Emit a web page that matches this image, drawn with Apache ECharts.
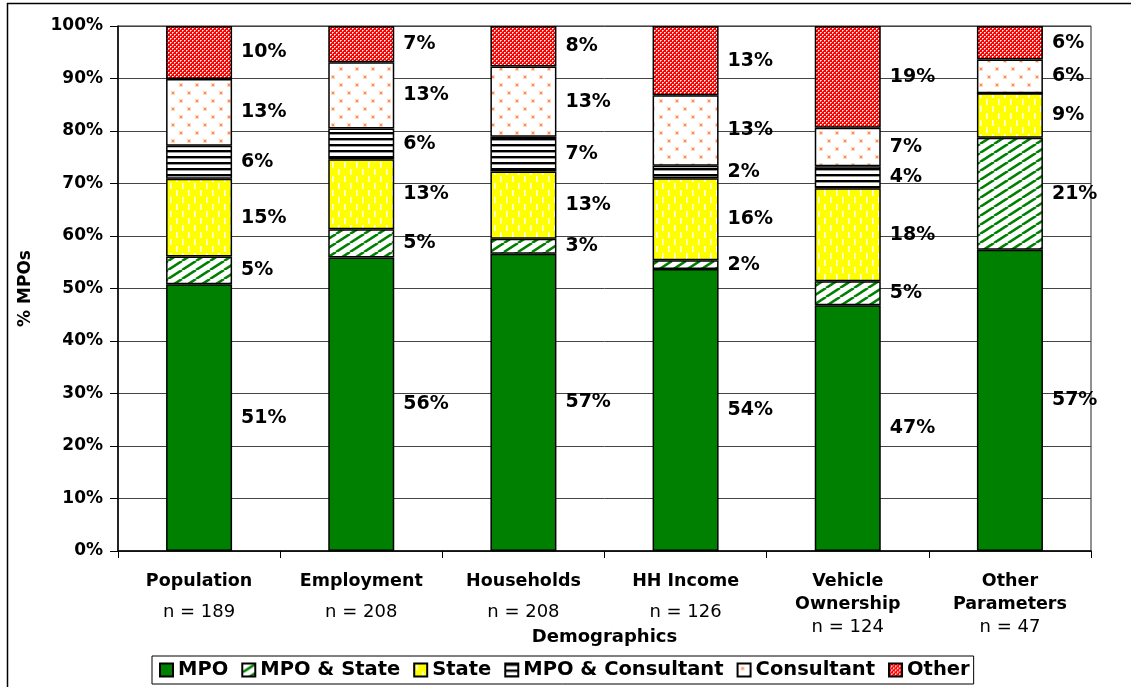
<!DOCTYPE html>
<html>
<head>
<meta charset="utf-8">
<script src="https://cdn.jsdelivr.net/npm/echarts@6/dist/echarts.min.js"></script>
<style>
  html, body { margin: 0; padding: 0; background: #fff; }
  #chart { width: 1131px; height: 687px; }
</style>
</head>
<body>
<div id="chart"></div>
<script>
// share of MPOs by source of demographic data, % of each column
const categories = ['Population', 'Employment', 'Households', 'HH Income', 'Vehicle\nOwnership', 'Other\nParameters']
const sampleSizes = [189, 208, 208, 126, 124, 47]

const mpo = [50.8, 55.9, 56.6, 53.7, 46.8, 57.4]
const mpoState = [5.3, 5.4, 2.9, 1.7, 4.6, 21.3]
const state = [14.8, 13.3, 12.8, 15.6, 17.7, 8.5]
const mpoConsultant = [6.3, 5.9, 6.6, 2.4, 4.2, 0]
const consultant = [12.7, 12.6, 13.4, 13.4, 7.3, 6.4]
const other = [10.1, 6.9, 7.7, 13.2, 19.4, 6.4]

const yTicks = [0, 10, 20, 30, 40, 50, 60, 70, 80, 90, 100]

const FONT = 'DejaVu Sans'

// fill patterns like the old excel ones
const makePattern = (w, h, draw) => {
  const c = document.createElement('canvas')
  c.width = w
  c.height = h
  draw(c.getContext('2d'))
  return { image: c, repeat: 'repeat' }
}

const stripePattern = makePattern(14, 9, (ctx) => {
  ctx.fillStyle = '#fff'
  ctx.fillRect(0, 0, 14, 9)
  ctx.strokeStyle = '#008000'
  ctx.lineWidth = 2.6
  for (const o of [-14, 0, 14]) {
    ctx.beginPath()
    ctx.moveTo(o, 9)
    ctx.lineTo(o + 14, 0)
    ctx.stroke()
  }
})

const dashPattern = makePattern(12, 14, (ctx) => {
  ctx.fillStyle = '#ffff00'
  ctx.fillRect(0, 0, 12, 14)
  ctx.fillStyle = '#fff'
  ctx.fillRect(2, 1, 1.5, 6)
  ctx.fillRect(8, 8, 1.5, 6)
})

const linePattern = makePattern(4, 6, (ctx) => {
  ctx.fillStyle = '#fff'
  ctx.fillRect(0, 0, 4, 6)
  ctx.fillStyle = '#000'
  ctx.fillRect(0, 0, 4, 2)
  ctx.fillStyle = '#999'
  ctx.fillRect(0, 2, 4, 1)
})

const dotPattern = makePattern(16, 16, (ctx) => {
  ctx.fillStyle = '#fff'
  ctx.fillRect(0, 0, 16, 16)
  ctx.fillStyle = '#ffd8c0'
  ctx.fillRect(3, 3, 4, 4)
  ctx.fillRect(11, 11, 4, 4)
  ctx.fillStyle = '#ff8c50'
  ctx.fillRect(4, 4, 2, 2)
  ctx.fillRect(12, 12, 2, 2)
})

const checkPattern = makePattern(4, 4, (ctx) => {
  ctx.fillStyle = '#ff0000'
  ctx.fillRect(0, 0, 4, 4)
  ctx.fillStyle = '#ffa0a0'
  ctx.fillRect(1, 0, 1, 1)
  ctx.fillRect(0, 1, 1, 1)
  ctx.fillRect(3, 2, 1, 1)
  ctx.fillRect(2, 3, 1, 1)
  ctx.fillStyle = '#fff'
  ctx.fillRect(0, 0, 1, 1)
  ctx.fillRect(2, 2, 1, 1)
})

const seriesDefs = [
  { name: 'MPO', data: mpo, color: '#008000' },
  { name: 'MPO & State', data: mpoState, color: stripePattern },
  { name: 'State', data: state, color: dashPattern },
  { name: 'MPO & Consultant', data: mpoConsultant, color: linePattern },
  { name: 'Consultant', data: consultant, color: dotPattern },
  { name: 'Other', data: other, color: checkPattern }
]

const chart = echarts.init(document.getElementById('chart'))

const option = {
  animation: false,
  backgroundColor: '#fff',
  graphic: [
    {
      type: 'rect',
      silent: true,
      z: -10,
      shape: { x: 7.5, y: 3.5, width: 1140, height: 700 },
      style: { fill: 'none', stroke: '#000', lineWidth: 1.5 }
    }
  ],
  grid: {
    left: 118,
    right: 40,
    top: 26,
    bottom: 136,
    show: true,
    borderColor: '#222',
    borderWidth: 1
  },
  legend: {
    left: 152,
    top: 656,
    padding: [3, 4, 3, 7],
    itemGap: 13,
    itemWidth: 13,
    itemHeight: 13,
    icon: 'rect',
    backgroundColor: '#fff',
    borderColor: '#000',
    borderWidth: 1,
    textStyle: {
      fontFamily: FONT,
      fontWeight: 'bold',
      fontSize: 19.5,
      lineHeight: 22,
      color: '#000'
    },
    data: seriesDefs.map((s) => s.name)
  },
  xAxis: {
    type: 'category',
    data: categories,
    name: 'Demographics',
    nameLocation: 'middle',
    nameGap: 77,
    nameMoveOverlap: false,
    nameTextStyle: { fontFamily: FONT, fontWeight: 'bold', fontSize: 18, color: '#000' },
    axisLine: { lineStyle: { color: '#000', width: 1.5 } },
    axisTick: { show: true, length: 7, lineStyle: { color: '#000' } },
    axisLabel: {
      interval: 0,
      margin: 19,
      color: '#000',
      formatter: (value, idx) => {
        const lines = value.split('\n')
        const head = lines.map((l) => '{b|' + l + '}').join('\n')
        const nStyle = lines.length > 1 ? 'n' : 'np'
        return head + '\n{' + nStyle + '|n = ' + sampleSizes[idx] + '}'
      },
      rich: {
        b: { fontFamily: FONT, fontWeight: 'bold', fontSize: 17.5, lineHeight: 23, color: '#000' },
        n: { fontFamily: FONT, fontSize: 18, lineHeight: 23, color: '#000' },
        np: { fontFamily: FONT, fontSize: 18, lineHeight: 39, color: '#000' }
      }
    }
  },
  yAxis: {
    type: 'value',
    min: yTicks[0],
    max: yTicks[yTicks.length - 1],
    interval: 10,
    name: '% MPOs',
    nameLocation: 'middle',
    nameGap: 84,
    nameMoveOverlap: false,
    nameTextStyle: { fontFamily: FONT, fontWeight: 'bold', fontSize: 17, color: '#000' },
    axisLine: { show: true, lineStyle: { color: '#000', width: 1.5 } },
    axisTick: { show: true, length: 8, lineStyle: { color: '#000' } },
    axisLabel: {
      margin: 15,
      fontFamily: FONT,
      fontWeight: 'bold',
      fontSize: 17,
      color: '#000',
      formatter: (v) => v + '%'
    },
    splitLine: { lineStyle: { color: '#444', width: 1 } }
  },
  series: seriesDefs.map((s) => ({
    name: s.name,
    type: 'bar',
    stack: 'total',
    barWidth: 66,
    data: s.data,
    itemStyle: {
      color: s.color,
      borderColor: '#000',
      borderWidth: 1.5
    },
    label: {
      show: true,
      position: 'right',
      distance: 9,
      fontFamily: FONT,
      fontWeight: 'bold',
      fontSize: 19,
      color: '#000',
      formatter: (p) => (p.value > 0 ? Math.round(p.value) + '%' : '')
    }
  }))
}

chart.setOption(option)
</script>
</body>
</html>
